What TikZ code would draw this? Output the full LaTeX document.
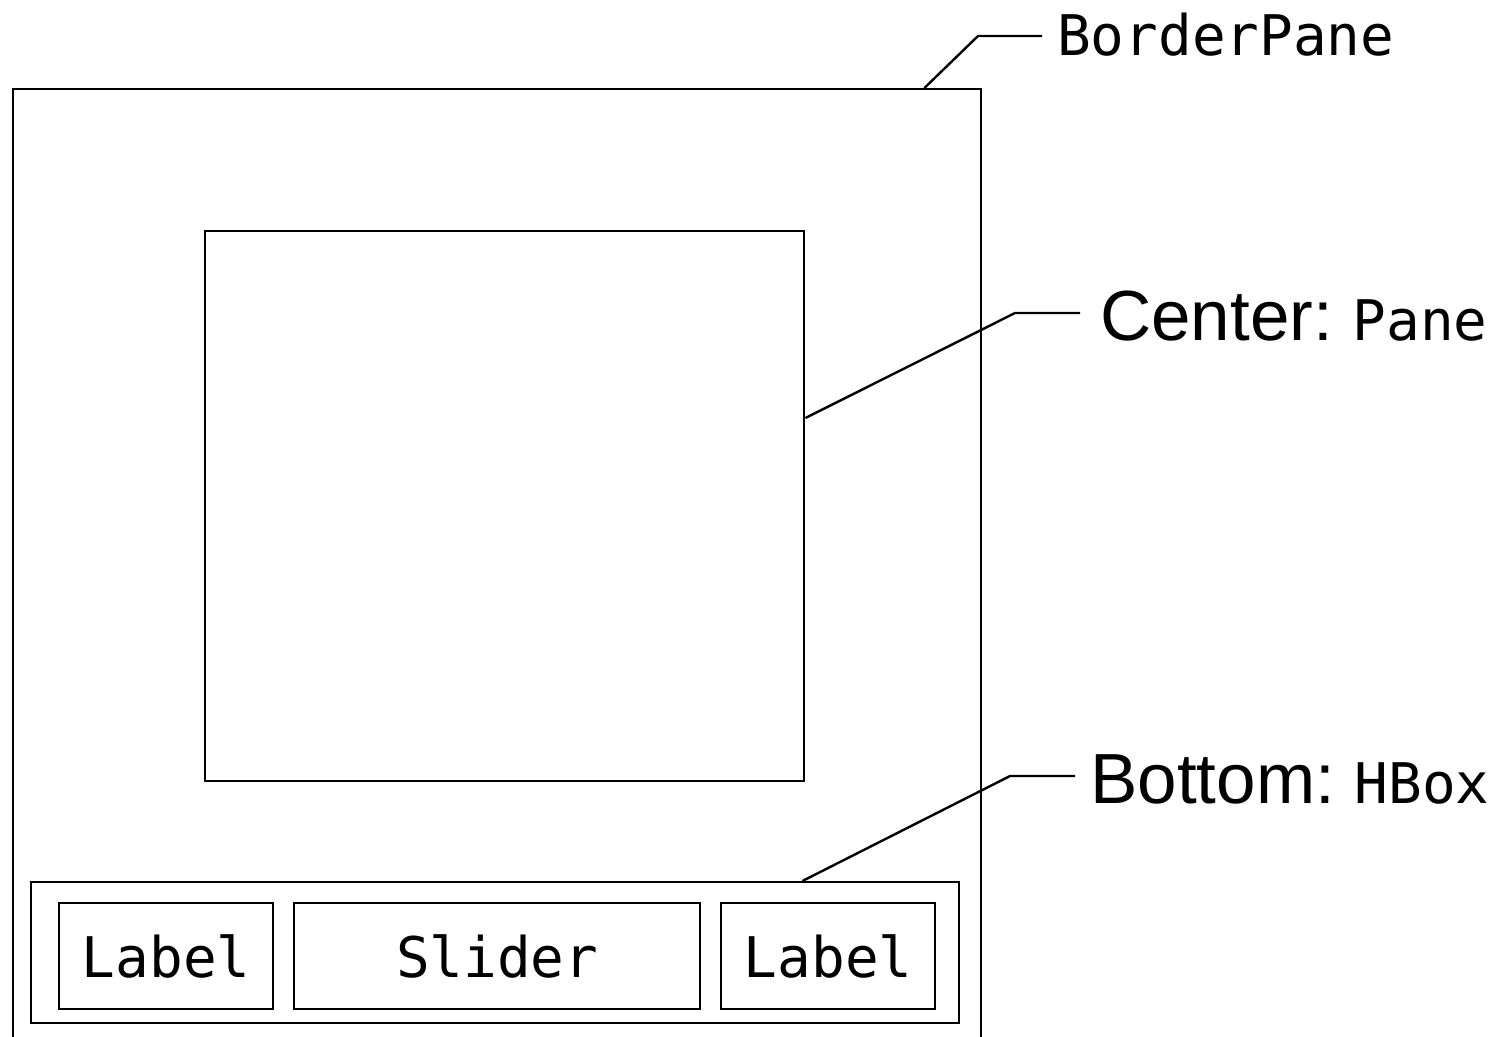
\documentclass[tikz,border=0pt]{standalone}
\usepackage{fontspec}
\setmainfont{Liberation Sans}
\setmonofont{DejaVu Sans Mono}
\newcommand\sanspart[1]{{\fontsize{71bp}{76bp}\selectfont #1\ }}
\newcommand\monopart[1]{{\fontsize{56bp}{60bp}\selectfont\ttfamily #1}}
\begin{document}
\begin{tikzpicture}[x=1bp,y=-1bp,
  box/.style={draw, rectangle, inner sep=0pt, line width=2.4bp},
  mono/.style={font=\fontsize{56bp}{60bp}\selectfont\ttfamily},
  caption/.style={inner sep=0pt, anchor=base west},
  leader/.style={line width=2.4bp, line join=miter}]
\useasboundingbox (0,0) rectangle (1505,1036);

% BorderPane (continues past the lower edge)
\node[box, minimum width=968bp, minimum height=1000bp, anchor=north west] (border) at (12,88) {};
% center region
\node[box, minimum width=599bp, minimum height=550bp, anchor=north west] (center) at (204,230) {};
% bottom HBox and its children
\node[box, minimum width=928bp, minimum height=141bp, anchor=north west] (hbox) at (30,881) {};
\node[box, mono, minimum width=214bp, minimum height=106bp, anchor=north west] (labA) at (58,902) {Label};
\node[box, mono, minimum width=406bp, minimum height=106bp, anchor=north west] (slider) at (293,902) {Slider};
\node[box, mono, minimum width=214bp, minimum height=106bp, anchor=north west] (labB) at (720,902) {Label};

% captions
\node[caption, mono] (tBorder) at (1057,55) {BorderPane};
\node[caption] (tCenter) at (1100,340) {\sanspart{Center:}\monopart{Pane}};
\node[caption] (tBottom) at (1090,803) {\sanspart{Bottom:}\monopart{HBox}};

% leader lines
\coordinate (kBorder) at (978,36);
\coordinate (eBorder) at (1042,36);
\coordinate (kCenter) at (1015,313);
\coordinate (eCenter) at (1080,313);
\coordinate (kBottom) at (1010,776);
\coordinate (eBottom) at (1075,776);

\draw[leader] ([xshift=-58bp]border.north east) -- (kBorder) -- (eBorder);
\draw[leader] ([yshift=-188bp]center.north east) -- (kCenter) -- (eCenter);
\draw[leader] ([xshift=-158bp]hbox.north east) -- (kBottom) -- (eBottom);
\end{tikzpicture}
\end{document}
